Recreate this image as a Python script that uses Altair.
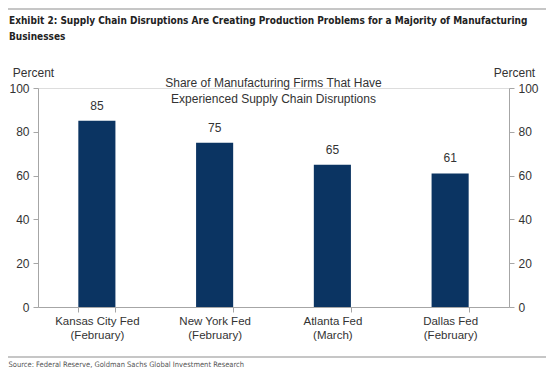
import altair as alt
import pandas as pd

# ---- data ----
categories = ["Kansas City Fed|(February)", "New York Fed|(February)",
              "Atlanta Fed|(March)", "Dallas Fed|(February)"]
values = [85, 75, 65, 61]
y_ticks = [0, 20, 40, 60, 80, 100]
title_lines = ["Exhibit 2: Supply Chain Disruptions Are Creating Production Problems for a Majority of Manufacturing",
               "Businesses"]
subtitle_lines = ["Share of Manufacturing Firms That Have",
                  "Experienced Supply Chain Disruptions"]
source_text = "Source: Federal Reserve, Goldman Sachs Global Investment Research"
axis_title = "Percent"

df = pd.DataFrame({"fed": categories, "share": values})

W, H = 471, 219
PAD = {"left": 30, "top": 80, "right": 37, "bottom": 61}
FONT = "Liberation Sans, Arial, sans-serif"
NARROW = "Liberation Sans Narrow, DejaVu Sans Condensed, Arial Narrow, sans-serif"
TXT = "#333333"
AX = "#a6a6a6"
BAR = "#0b3462"

x = alt.X(
    "fed:N", sort=categories,
    scale=alt.Scale(paddingInner=0.685, paddingOuter=0.3425),
    axis=alt.Axis(
        title=source_text, titleFont=NARROW, titleFontSize=7.5, titleFontWeight="normal",
        titleColor="#555555", titleAnchor="start", titleAlign="left", titleAngle=0,
        titleBaseline="alphabetic", titleX=-30, titleY=59,
        labelExpr="split(datum.label, '|')", labelAngle=0, labelFont=FONT,
        labelFontSize=11.5, labelColor=TXT, labelLineHeight=14, labelPadding=3,
        tickBand="extent", tickSize=5, tickColor=AX, domainColor=AX, grid=False,
    ),
)

y_left = alt.Y(
    "share:Q", scale=alt.Scale(domain=[0, 100], nice=False),
    axis=alt.Axis(
        orient="left", values=y_ticks, grid=False, title=axis_title,
        titleAngle=0, titleX=-5, titleY=-12, titleAlign="center",
        titleBaseline="alphabetic", titleFont=FONT, titleFontSize=12,
        titleFontWeight="normal", titleColor=TXT,
        labelFont=FONT, labelFontSize=12, labelColor=TXT, labelPadding=4,
        tickSize=5, tickColor=AX, domainColor=AX,
    ),
)

y_right = alt.Y(
    "share:Q", scale=alt.Scale(domain=[0, 100], nice=False),
    axis=alt.Axis(
        orient="right", values=y_ticks, grid=False, title=axis_title,
        titleAngle=0, titleX=5, titleY=-12, titleAlign="center",
        titleBaseline="alphabetic", titleFont=FONT, titleFontSize=12,
        titleFontWeight="normal", titleColor=TXT,
        labelFont=FONT, labelFontSize=12, labelColor=TXT, labelPadding=4,
        tickSize=5, tickColor=AX, domainColor=AX,
    ),
)

bars = alt.Chart(df).mark_bar(color=BAR).encode(x=x, y=y_left)

labels = alt.Chart(df).mark_text(
    dy=-8, baseline="bottom", font=FONT, fontSize=12, color=TXT
).encode(x=x, y=y_right, text="share:Q")

one = pd.DataFrame({"k": [0]})

subtitle = alt.Chart(one).mark_text(
    text=subtitle_lines, font=FONT, fontSize=12, color=TXT, align="center",
    baseline="alphabetic", lineHeight=16
).encode(x=alt.value(W / 2), y=alt.value(-1))

title = alt.Chart(one).mark_text(
    text=title_lines, font=NARROW, fontSize=10, fontWeight="bold", color="#222222",
    align="left", baseline="alphabetic", lineHeight=16
).encode(x=alt.value(-29), y=alt.value(-64))

top_rule = alt.Chart(one).mark_rule(color="#b3b3b3", strokeWidth=1.5).encode(
    x=alt.value(-30), x2=alt.value(W + 37), y=alt.value(-79))
bottom_rule = alt.Chart(one).mark_rule(color="#b3b3b3", strokeWidth=1.5).encode(
    x=alt.value(-30), x2=alt.value(W + 37), y=alt.value(269))

chart = alt.layer(bars, labels, subtitle, title, top_rule, bottom_rule).resolve_axis(
    y="independent"
).properties(
    width=W, height=H, padding=PAD,
    autosize=alt.AutoSizeParams(type="none"),
).configure_view(stroke=None).configure(background="white")

chart.save("out.html", embed_options={"renderer": "svg", "actions": False})
